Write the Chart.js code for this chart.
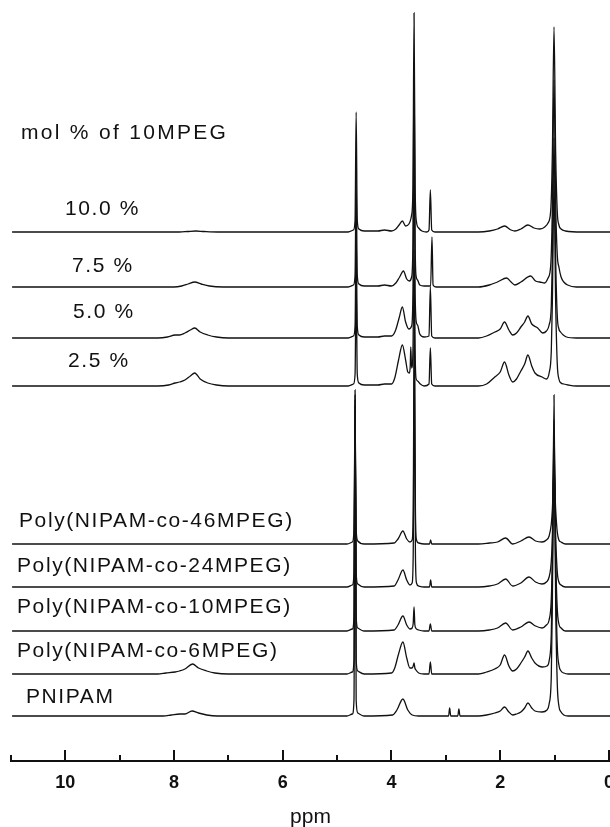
<!DOCTYPE html>
<html>
<head>
<meta charset="utf-8">
<script src="https://cdn.jsdelivr.net/npm/chart.js@4.4.1/dist/chart.umd.min.js"></script>
<style>
  html, body { margin: 0; padding: 0; background: #fff; }
  canvas { display: block; }
</style>
</head>
<body>
<canvas id="nmr" width="610" height="827"></canvas>
<script>
// axis ticks (ppm)
const ppmTicks = [10, 8, 6, 4, 2, 0];
const ppmMinorTicks = [11, 9, 7, 5, 3, 1];

// trace names, top to bottom
const traceNames = [
  "10.0 %", "7.5 %", "5.0 %", "2.5 %",
  "Poly(NIPAM-co-46MPEG)", "Poly(NIPAM-co-24MPEG)", "Poly(NIPAM-co-10MPEG)",
  "Poly(NIPAM-co-6MPEG)", "PNIPAM"
];
// vertical stacking offset of each trace (intensity units)
const stackOffset = [529, 474, 423, 375, 217, 174, 130, 87, 45];

// spectra: [ppm, intensity]
const spec10p0 = [
  [10.98,0],[7.9,0],[7.75,0.5],[7.6,1],[7.45,0.5],[7.2,0],
  [4.80,0],[4.70,2],[4.67,12],[4.65,120],[4.63,12],[4.60,3],[4.50,1],
  [4.25,1],[4.13,2],[4.00,1],[3.92,3],[3.86,7],[3.80,11],[3.74,6],[3.68,8],[3.63,17],[3.605,45],[3.585,219],[3.565,45],[3.54,10],[3.50,4],[3.44,1],[3.35,0],
  [3.31,2],[3.285,42],[3.26,2],[3.20,0],
  [2.40,0],[2.20,1],[2.05,3],[1.92,6],[1.80,2],[1.73,1],[1.62,3],[1.49,7],[1.38,4],[1.27,3],[1.18,5],[1.12,9],[1.07,22],[1.04,80],[1.01,205],[0.98,80],[0.95,20],[0.92,7],[0.88,3],[0.80,1],[0.50,0],[-0.02,0]
];
const spec7p5 = [
  [10.98,0],[8.0,0],[7.86,1],[7.74,3],[7.62,5],[7.50,3],[7.35,1],[7.10,0],
  [4.80,0],[4.70,2],[4.67,12],[4.65,107],[4.63,12],[4.60,3],[4.50,1],
  [4.25,1],[4.13,2],[4.00,1],[3.92,4],[3.85,10],[3.78,16],[3.72,8],[3.67,6],[3.63,10],[3.605,45],[3.585,219],[3.565,45],[3.55,12],[3.52,7],[3.48,2],[3.40,1],
  [3.28,1],[3.255,50],[3.235,2],[3.18,0],
  [2.40,0],[2.20,2],[2.05,5],[1.88,9],[1.80,5],[1.73,2],[1.62,5],[1.44,11],[1.35,6],[1.27,5],[1.18,4],[1.12,9],[1.07,22],[1.04,80],[1.01,207],[0.98,85],[0.95,32],[0.92,20],[0.88,10],[0.83,5],[0.76,2],[0.60,0],[-0.02,0]
];
const spec5p0 = [
  [10.98,0],[8.30,0],[8.12,1],[7.98,3],[7.90,3],[7.80,5],[7.70,8],[7.62,10],[7.52,6],[7.38,3],[7.22,1],[7.00,0],
  [4.80,0],[4.70,2],[4.67,12],[4.65,108],[4.63,12],[4.60,3],[4.50,1],
  [4.25,1],[4.13,2],[4.00,2],[3.93,7],[3.86,20],[3.80,31],[3.74,16],[3.68,9],[3.63,12],[3.605,45],[3.585,195],[3.565,45],[3.54,15],[3.52,13],[3.48,4],[3.40,1],
  [3.31,2],[3.285,51],[3.26,2],[3.20,0],
  [2.40,0],[2.25,2],[2.10,6],[2.00,9],[1.92,16],[1.84,8],[1.77,3],[1.70,5],[1.62,11],[1.55,16],[1.49,22],[1.42,14],[1.31,10],[1.22,5],[1.15,7],[1.10,13],[1.06,32],[1.04,80],[1.01,200],[0.98,80],[0.95,22],[0.92,9],[0.89,6],[0.84,3],[0.78,1],[0.60,0],[-0.02,0]
];
const spec2p5 = [
  [10.98,0],[8.30,0],[8.10,1],[7.98,3],[7.90,4],[7.80,6],[7.70,10],[7.62,13],[7.52,7],[7.38,3],[7.22,1],[7.00,0],
  [4.80,0],[4.70,2],[4.67,12],[4.65,106],[4.63,12],[4.60,3],[4.50,1],
  [4.25,1],[4.13,2],[4.00,2],[3.94,8],[3.87,26],[3.80,41],[3.74,26],[3.70,14],[3.67,13],[3.655,20],[3.645,39],[3.63,18],[3.605,35],[3.585,136],[3.565,35],[3.55,8],[3.52,5],[3.47,2],[3.40,0],
  [3.31,2],[3.285,38],[3.26,2],[3.20,0],
  [2.40,0],[2.25,2],[2.10,9],[2.00,14],[1.92,24],[1.84,11],[1.77,4],[1.70,7],[1.62,15],[1.55,22],[1.49,31],[1.42,20],[1.36,13],[1.23,9],[1.15,7],[1.10,13],[1.06,35],[1.04,85],[1.01,206],[0.98,85],[0.95,22],[0.92,7],[0.88,3],[0.83,2],[0.75,1],[0.60,0],[-0.02,0]
];
const specCo46 = [
  [10.98,0],
  [4.82,0],[4.72,2],[4.69,14],[4.67,134],[4.65,14],[4.62,3],[4.50,0],
  [3.95,1],[3.88,5],[3.79,13],[3.72,5],[3.66,2],[3.62,4],[3.60,35],[3.58,244],[3.56,35],[3.54,4],[3.50,1],[3.40,0],
  [3.30,0],[3.28,4],[3.26,0],
  [2.40,0],[2.20,1],[2.05,2],[1.90,6],[1.77,0],[1.62,3],[1.47,7],[1.35,3],[1.23,2],[1.15,4],[1.10,8],[1.06,20],[1.04,35],[1.01,74],[0.98,35],[0.95,12],[0.92,4],[0.88,2],[0.80,0],[-0.02,0]
];
const specCo24 = [
  [10.98,0],
  [4.82,0],[4.72,2],[4.69,14],[4.67,182],[4.65,14],[4.62,3],[4.50,0],
  [3.95,1],[3.88,7],[3.79,17],[3.72,7],[3.66,2],[3.62,4],[3.60,35],[3.58,237],[3.56,35],[3.54,4],[3.50,1],[3.40,0],
  [3.30,0],[3.28,7],[3.26,0],
  [2.40,0],[2.20,1],[2.05,3],[1.90,8],[1.77,1],[1.62,4],[1.47,10],[1.35,5],[1.23,3],[1.15,5],[1.10,10],[1.06,26],[1.04,52],[1.01,127],[0.98,52],[0.95,15],[0.92,5],[0.88,2],[0.80,0],[-0.02,0]
];
const specCo10 = [
  [10.98,0],
  [4.82,0],[4.72,2],[4.69,14],[4.67,231],[4.65,14],[4.62,3],[4.50,0],
  [3.95,1],[3.88,6],[3.79,15],[3.72,6],[3.66,2],[3.62,3],[3.60,8],[3.585,24],[3.57,6],[3.54,2],[3.50,1],[3.40,0],
  [3.31,0],[3.285,7],[3.26,0],
  [2.40,0],[2.20,1],[2.05,3],[1.90,8],[1.77,1],[1.62,4],[1.47,9],[1.35,5],[1.23,3],[1.15,6],[1.10,11],[1.06,32],[1.04,75],[1.01,191],[0.98,75],[0.95,22],[0.92,7],[0.88,3],[0.80,0],[-0.02,0]
];
const specCo6 = [
  [10.98,0],[8.30,0],[8.15,1],[7.98,2],[7.90,3],[7.80,5],[7.66,10],[7.55,6],[7.40,3],[7.25,1],[7.00,0],
  [4.82,0],[4.72,2],[4.69,14],[4.67,279],[4.65,14],[4.62,3],[4.50,0],
  [4.00,1],[3.94,6],[3.87,20],[3.79,32],[3.72,16],[3.66,6],[3.62,6],[3.60,8],[3.585,11],[3.57,6],[3.55,4],[3.50,1],[3.40,0],
  [3.31,0],[3.285,12],[3.26,0],
  [2.40,0],[2.25,2],[2.10,5],[2.00,9],[1.92,19],[1.84,8],[1.77,3],[1.70,5],[1.62,11],[1.55,17],[1.49,23],[1.42,16],[1.36,11],[1.22,7],[1.14,8],[1.10,13],[1.06,40],[1.04,100],[1.01,254],[0.98,100],[0.95,28],[0.92,9],[0.88,3],[0.83,1],[0.75,0],[-0.02,0]
];
const specPNIPAM = [
  [10.98,0],[8.20,0],[8.05,1],[7.90,2],[7.80,2],[7.67,5],[7.55,3],[7.40,1],[7.20,0],
  [4.82,0],[4.72,2],[4.69,16],[4.67,326],[4.65,16],[4.62,3],[4.50,0],
  [3.98,1],[3.90,6],[3.79,17],[3.70,6],[3.62,1],[3.50,0],
  [2.95,0],[2.93,8],[2.91,0],[2.78,0],[2.76,7],[2.74,0],
  [2.40,0],[2.25,1],[2.10,3],[2.00,5],[1.92,9],[1.84,4],[1.77,1],[1.70,2],[1.62,4],[1.55,8],[1.49,13],[1.42,8],[1.36,5],[1.23,4],[1.14,6],[1.10,12],[1.06,40],[1.04,115],[1.01,321],[0.98,115],[0.95,32],[0.92,10],[0.88,4],[0.83,1],[0.75,0],[-0.02,0]
];

const spectra = [spec10p0, spec7p5, spec5p0, spec2p5, specCo46, specCo24, specCo10, specCo6, specPNIPAM];

// where the names are written (pixels: left, baseline)
const labelPos = [
  [65, 215], [72, 272], [73, 318], [68, 367],
  [19, 527], [17, 572], [17, 613], [17, 657], [26, 703]
];
const heading = "mol % of 10MPEG";

const FONT = "'Liberation Sans', Arial, Helvetica, sans-serif";
Chart.defaults.font.family = FONT;
Chart.defaults.color = "#111";

const datasets = spectra.map((spec, i) => ({
  label: traceNames[i],
  data: spec.map(([p, v]) => ({ x: p, y: v + stackOffset[i] })),
  borderColor: "#111",
  borderWidth: 1.3,
  pointRadius: 0,
  fill: false,
  cubicInterpolationMode: "monotone",
}));

// ticks pointing up from the axis line
const upTicks = {
  id: "upTicks",
  afterDraw(chart) {
    const xs = chart.scales.x;
    const ctx = chart.ctx;
    const y0 = xs.top;
    ctx.save();
    ctx.strokeStyle = "#111";
    ctx.lineWidth = 2;
    ppmTicks.forEach((v) => {
      const px = Math.round(xs.getPixelForValue(v));
      ctx.beginPath(); ctx.moveTo(px, y0); ctx.lineTo(px, y0 - 11); ctx.stroke();
    });
    ppmMinorTicks.forEach((v) => {
      const px = Math.round(xs.getPixelForValue(v));
      ctx.beginPath(); ctx.moveTo(px, y0); ctx.lineTo(px, y0 - 6); ctx.stroke();
    });
    ctx.restore();
  },
};

// sample names
const traceLabels = {
  id: "traceLabels",
  afterDraw(chart) {
    const ctx = chart.ctx;
    ctx.save();
    ctx.fillStyle = "#111";
    ctx.font = "21px " + FONT;
    ctx.textBaseline = "alphabetic";
    ctx.letterSpacing = "2.3px";
    ctx.fillText(heading, 21, 139);
    ctx.letterSpacing = "1.6px";
    traceNames.forEach((name, i) => {
      ctx.fillText(name, labelPos[i][0], labelPos[i][1]);
    });
    ctx.restore();
  },
};

new Chart(document.getElementById("nmr"), {
  type: "line",
  data: { datasets },
  options: {
    responsive: false,
    animation: false,
    devicePixelRatio: 1,
    layout: { padding: { left: 11, right: 0, top: 0, bottom: 0 } },
    plugins: { legend: { display: false }, tooltip: { enabled: false } },
    scales: {
      x: {
        type: "linear",
        reverse: true,
        min: -0.02,
        max: 11.0,
        afterBuildTicks: (scale) => {
          scale.ticks = ppmTicks.map((v) => ({ value: v }));
        },
        afterFit: (scale) => {
          scale.height = 66;
          scale.paddingLeft = 0;
          scale.paddingRight = 0;
        },
        grid: { display: false, drawTicks: false },
        border: { display: true, color: "#111", width: 2 },
        ticks: {
          padding: 11,
          maxRotation: 0,
          autoSkip: false,
          font: { size: 18, weight: "bold" },
          color: "#111",
          callback: (v) => String(v),
        },
        title: {
          display: true,
          text: "ppm",
          font: { size: 21, lineHeight: 1 },
          color: "#111",
          padding: { top: 0, bottom: -1 },
        },
      },
      y: { display: false, min: 0, max: 761 },
    },
  },
  plugins: [upTicks, traceLabels],
});
</script>
</body>
</html>
